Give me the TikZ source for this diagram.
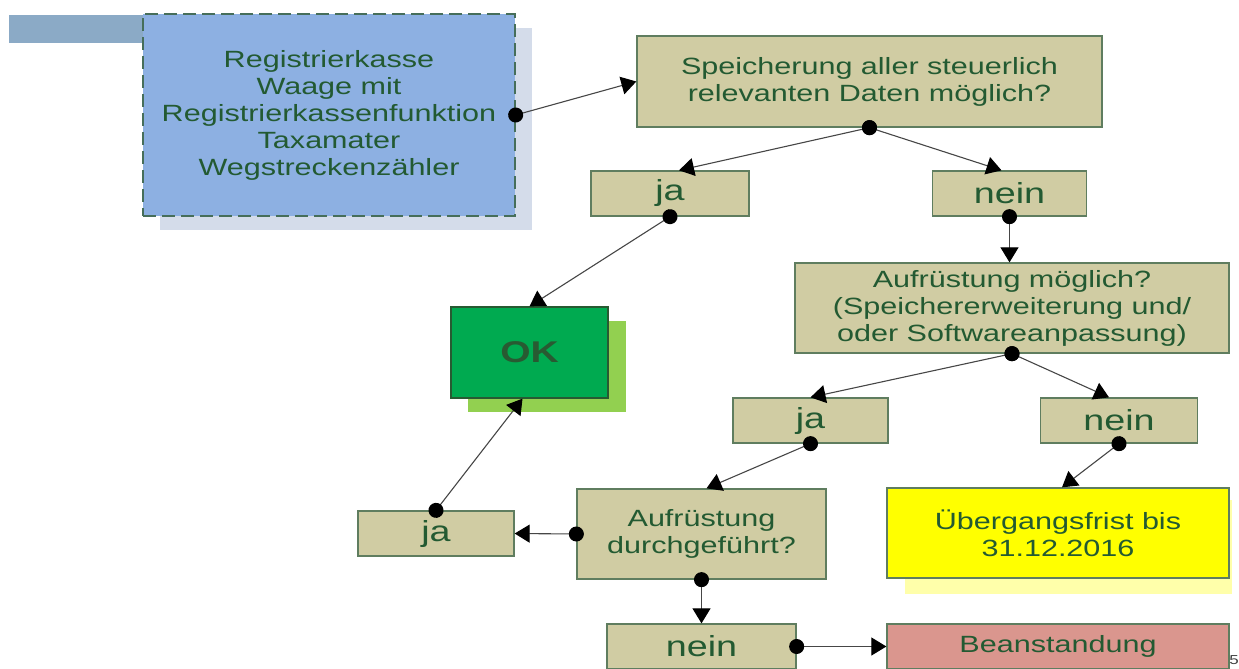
\documentclass[tikz,border=0pt]{standalone}
\usepackage{fontspec}
\setmainfont{Liberation Sans}[FakeStretch=1.3]
\usetikzlibrary{arrows.meta}
\definecolor{tanfill}{RGB}{208,204,163}
\definecolor{boxborder}{RGB}{95,125,95}
\definecolor{txtgreen}{RGB}{35,90,50}
\definecolor{bluefill}{RGB}{141,176,226}
\definecolor{blueshadow}{RGB}{212,220,234}
\definecolor{stripblue}{RGB}{139,170,198}
\definecolor{okgreen}{RGB}{0,170,80}
\definecolor{okshadow}{RGB}{146,208,80}
\definecolor{okborder}{RGB}{40,90,50}
\definecolor{yellowfill}{RGB}{255,255,0}
\definecolor{yellowshadow}{RGB}{255,255,170}
\definecolor{beanfill}{RGB}{218,150,142}
\definecolor{linegray}{RGB}{70,70,70}
\definecolor{dashgreen}{RGB}{70,110,90}
\begin{document}
\begin{tikzpicture}[x=1pt,y=-1pt,
  box/.style={draw=boxborder, line width=1.3pt, fill=tanfill, text=txtgreen, inner sep=0pt, align=center, font=\fontsize{23.5}{27}\selectfont},
  answer/.style={box, font=\fontsize{29}{30}\selectfont},
  conn/.style={draw=linegray, line width=1.1pt, shorten <=-7.5pt,
    {Circle[length=15pt,width=15pt,color=black,fill=black]}-{Triangle[length=15pt,width=18pt,color=black,fill=black]}}
]
\useasboundingbox (0,0) rectangle (1239,669);
% backgrounds and shadows
\fill[stripblue] (9,15) rectangle (143,43);
\fill[blueshadow] (160,28) rectangle (532,230);
\fill[okshadow] (468,321) rectangle (626,412);
\fill[yellowshadow] (905,500) rectangle (1232,594);
% nodes
\node[box, fill=bluefill, draw=dashgreen, dash pattern=on 13pt off 6pt, minimum width=372, minimum height=202] (reg) at (329,115)
  {Registrierkasse\\Waage mit\\Registrierkassenfunktion\\Taxamater\\Wegstreckenzähler};
\node[box, minimum width=465, minimum height=91] (sp) at (869.5,81.5)
  {Speicherung aller steuerlich\\relevanten Daten möglich?};
\node[answer, minimum width=158, minimum height=45] (ja1) at (670,193.5) {ja};
\node[answer, minimum width=154, minimum height=45] (nein1) at (1009.5,193.5) {nein};
\node[box, minimum width=434, minimum height=90] (aufm) at (1012,308)
  {Aufrüstung möglich?\\(Speichererweiterung und/\\oder Softwareanpassung)};
\node[answer, minimum width=155, minimum height=45] (ja2) at (810.5,420.5) {ja};
\node[answer, minimum width=157, minimum height=45] (nein2) at (1119,420.5) {nein};
\node[box, fill=okgreen, draw=okborder, text=okborder, minimum width=157, minimum height=91, font=\fontsize{30}{30}\selectfont\bfseries] (ok) at (529.5,352.5) {OK};
\node[box, minimum width=249, minimum height=90] (durch) at (701.5,534)
  {Aufrüstung\\durchgeführt?};
\node[answer, minimum width=156, minimum height=45] (ja3) at (436,533.5) {ja};
\node[box, fill=yellowfill, minimum width=342, minimum height=90] (ueber) at (1058,533)
  {Übergangsfrist bis\\31.12.2016};
\node[answer, minimum width=189, minimum height=45] (nein3) at (701.5,646.5) {nein};
\node[box, fill=beanfill, minimum width=342, minimum height=45] (bean) at (1058,646.5) {Beanstandung};
\node[anchor=east, inner sep=0pt, text=black!75, font=\fontsize{13}{13}\selectfont] (pg) at (1239,660) {5};
% connectors
\draw[conn] (reg.east) -- (sp.west);
\draw[conn] (sp.south) -- ([xshift=9pt]ja1.north);
\draw[conn] (sp.south) -- ([xshift=-8pt]nein1.north);
\draw[conn] (nein1.south) -- (nein1.south |- aufm.north);
\draw[conn] (aufm.south) -- (ja2.north);
\draw[conn] (aufm.south) -- ([xshift=-10pt]nein2.north);
\draw[conn] (ja1.south) -- (ok.north);
\draw[conn] (ja2.south) -- ([xshift=5pt]durch.north);
\draw[conn] (nein2.south) -- ([xshift=4pt]ueber.north);
\draw[conn] (durch.west) -- (ja3.east);
\draw[conn] (ja3.north) -- ([xshift=-7pt]ok.south);
\draw[conn] (durch.south) -- (nein3.north);
\draw[conn] (nein3.east) -- (bean.west);
\end{tikzpicture}
\end{document}
